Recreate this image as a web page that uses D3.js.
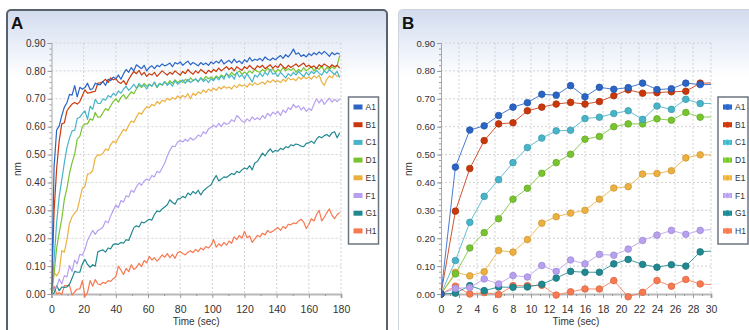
<!DOCTYPE html>
<html>
<head>
<meta charset="utf-8">
<script src="https://cdn.jsdelivr.net/npm/d3@7"></script>
<style>
  body { margin: 0; background: #fff; }
  text { font-family: "Liberation Sans", Arial, sans-serif; }
</style>
</head>
<body>
<svg id="chart" width="749" height="330"></svg>
<script>
// sample interval of the recordings (sec)
const step = 1.6;

const seriesNames = ["A1", "B1", "C1", "D1", "E1", "F1", "G1", "H1"];
const seriesColors = ["#2a64c4", "#c8380c", "#48b4c8", "#78c430", "#ecb040", "#b8a0f0", "#208890", "#f87850"];

const A1 = [0, 0.455, 0.588, 0.603, 0.640, 0.670, 0.686, 0.716, 0.713, 0.747, 0.707, 0.741, 0.734, 0.740, 0.756, 0.733, 0.736, 0.756, 0.751,
  0.751, 0.762, 0.748, 0.770, 0.765, 0.778, 0.772, 0.785, 0.770, 0.790, 0.805, 0.795,
  0.812, 0.800, 0.822, 0.815, 0.808, 0.820, 0.800, 0.812, 0.818, 0.808, 0.820, 0.815, 0.825,
  0.818, 0.822, 0.828, 0.815, 0.830, 0.825, 0.832, 0.820, 0.828, 0.835, 0.822, 0.830,
  0.825, 0.818, 0.830, 0.822, 0.828, 0.820, 0.832, 0.826, 0.835, 0.828, 0.840, 0.825, 0.832,
  0.838, 0.828, 0.842, 0.830, 0.836, 0.826, 0.840, 0.832, 0.848, 0.835, 0.842, 0.838,
  0.845, 0.836, 0.850, 0.842, 0.838, 0.846, 0.840, 0.848, 0.855, 0.845, 0.858, 0.850, 0.862,
  0.878, 0.860, 0.865, 0.852, 0.858, 0.850, 0.862, 0.855, 0.865, 0.858, 0.868, 0.860,
  0.870, 0.862, 0.852, 0.866, 0.858, 0.864, 0.860];

const B1 = [0, 0.297, 0.450, 0.550, 0.610, 0.614, 0.657, 0.670, 0.681, 0.687, 0.681, 0.690, 0.711, 0.732, 0.720, 0.722, 0.725, 0.727, 0.756,
  0.757, 0.762, 0.770, 0.758, 0.775, 0.768, 0.772, 0.760, 0.755, 0.765, 0.750, 0.770,
  0.785, 0.798, 0.790, 0.802, 0.785, 0.795, 0.780, 0.790, 0.785, 0.795, 0.780, 0.790, 0.800,
  0.792, 0.785, 0.795, 0.788, 0.800, 0.792, 0.785, 0.798, 0.790, 0.805, 0.795, 0.788,
  0.800, 0.792, 0.805, 0.798, 0.790, 0.802, 0.795, 0.805, 0.798, 0.810, 0.800, 0.808, 0.815,
  0.805, 0.812, 0.800, 0.815, 0.808, 0.802, 0.815, 0.808, 0.820, 0.810, 0.805, 0.818,
  0.812, 0.820, 0.808, 0.815, 0.822, 0.810, 0.818, 0.812, 0.825, 0.815, 0.808, 0.820, 0.812,
  0.818, 0.825, 0.815, 0.822, 0.828, 0.815, 0.820, 0.812, 0.818, 0.808, 0.822, 0.815,
  0.825, 0.818, 0.812, 0.822, 0.815, 0.820, 0.810];

const C1 = [0, 0.120, 0.257, 0.350, 0.410, 0.471, 0.525, 0.559, 0.585, 0.587, 0.629, 0.634, 0.647, 0.657, 0.626, 0.674, 0.662, 0.698, 0.683,
  0.683, 0.700, 0.695, 0.712, 0.705, 0.720, 0.712, 0.728, 0.720, 0.735, 0.745, 0.730,
  0.740, 0.752, 0.738, 0.755, 0.745, 0.748, 0.735, 0.752, 0.745, 0.760, 0.742, 0.755, 0.750,
  0.762, 0.748, 0.758, 0.745, 0.765, 0.752, 0.760, 0.768, 0.755, 0.770, 0.758, 0.765,
  0.772, 0.760, 0.775, 0.762, 0.770, 0.758, 0.772, 0.765, 0.778, 0.768, 0.782, 0.770, 0.792,
  0.775, 0.785, 0.770, 0.795, 0.778, 0.786, 0.772, 0.790, 0.775, 0.760, 0.785, 0.778,
  0.792, 0.780, 0.795, 0.785, 0.805, 0.788, 0.792, 0.780, 0.795, 0.785, 0.775, 0.790, 0.782,
  0.795, 0.785, 0.798, 0.788, 0.780, 0.795, 0.785, 0.798, 0.790, 0.802, 0.792, 0.785,
  0.800, 0.792, 0.805, 0.795, 0.788, 0.798, 0.775];

const D1 = [0, 0.072, 0.165, 0.220, 0.270, 0.340, 0.379, 0.433, 0.471, 0.501, 0.555, 0.565, 0.600, 0.610, 0.610, 0.628, 0.623, 0.651, 0.634,
  0.635, 0.650, 0.665, 0.658, 0.675, 0.690, 0.700, 0.688, 0.705, 0.715, 0.700, 0.712,
  0.725, 0.718, 0.735, 0.748, 0.740, 0.755, 0.745, 0.752, 0.745, 0.758, 0.740, 0.755, 0.748,
  0.760, 0.752, 0.765, 0.755, 0.768, 0.758, 0.765, 0.758, 0.770, 0.762, 0.775, 0.765,
  0.770, 0.762, 0.775, 0.768, 0.780, 0.772, 0.778, 0.770, 0.782, 0.775, 0.785, 0.778, 0.790,
  0.782, 0.795, 0.785, 0.792, 0.800, 0.788, 0.795, 0.790, 0.800, 0.792, 0.805, 0.798,
  0.795, 0.805, 0.798, 0.810, 0.800, 0.808, 0.795, 0.805, 0.798, 0.812, 0.800, 0.808, 0.802,
  0.810, 0.795, 0.805, 0.798, 0.812, 0.800, 0.808, 0.815, 0.800, 0.812, 0.805, 0.818,
  0.800, 0.812, 0.805, 0.815, 0.808, 0.820, 0.855];

const E1 = [0, 0.078, 0.065, 0.080, 0.156, 0.150, 0.195, 0.254, 0.277, 0.290, 0.300, 0.340, 0.380, 0.385, 0.430, 0.432, 0.442, 0.488, 0.499,
  0.498, 0.505, 0.520, 0.515, 0.535, 0.548, 0.542, 0.560, 0.575, 0.590, 0.585, 0.605,
  0.620, 0.615, 0.635, 0.650, 0.645, 0.660, 0.672, 0.668, 0.680, 0.675, 0.690, 0.682, 0.695,
  0.690, 0.702, 0.695, 0.705, 0.698, 0.710, 0.702, 0.712, 0.705, 0.718, 0.700, 0.720,
  0.712, 0.725, 0.718, 0.732, 0.722, 0.735, 0.728, 0.738, 0.730, 0.742, 0.735, 0.745, 0.738,
  0.742, 0.735, 0.748, 0.740, 0.752, 0.745, 0.750, 0.742, 0.755, 0.748, 0.758, 0.750,
  0.755, 0.760, 0.752, 0.765, 0.758, 0.768, 0.760, 0.765, 0.758, 0.770, 0.762, 0.775, 0.768,
  0.772, 0.765, 0.778, 0.770, 0.780, 0.772, 0.778, 0.770, 0.782, 0.775, 0.785, 0.760,
  0.748, 0.770, 0.782, 0.775, 0.790, 0.780, 0.785];

const F1 = [0, 0.020, 0.023, 0.054, 0.036, 0.066, 0.061, 0.102, 0.081, 0.122, 0.108, 0.142, 0.139, 0.161, 0.192, 0.211, 0.228, 0.214, 0.228,
  0.232, 0.240, 0.262, 0.255, 0.280, 0.300, 0.318, 0.310, 0.335, 0.330, 0.352, 0.348,
  0.372, 0.365, 0.385, 0.398, 0.390, 0.405, 0.412, 0.408, 0.425, 0.420, 0.440, 0.435, 0.452,
  0.470, 0.495, 0.515, 0.530, 0.528, 0.545, 0.550, 0.545, 0.555, 0.548, 0.560, 0.552,
  0.558, 0.570, 0.565, 0.582, 0.575, 0.592, 0.598, 0.605, 0.598, 0.612, 0.600, 0.615, 0.608,
  0.612, 0.625, 0.618, 0.640, 0.632, 0.620, 0.615, 0.628, 0.620, 0.635, 0.625, 0.632,
  0.625, 0.640, 0.630, 0.648, 0.638, 0.652, 0.645, 0.655, 0.640, 0.660, 0.650, 0.668, 0.662,
  0.680, 0.668, 0.675, 0.660, 0.670, 0.655, 0.665, 0.658, 0.680, 0.700, 0.685, 0.698,
  0.680, 0.692, 0.702, 0.688, 0.698, 0.690, 0.700];

const G1 = [0, 0.003, 0.030, 0.012, 0.025, 0.024, 0.025, 0.035, 0.057, 0.081, 0.078, 0.078, 0.108, 0.124, 0.106, 0.096, 0.105, 0.100, 0.151,
  0.155, 0.158, 0.150, 0.165, 0.162, 0.178, 0.180, 0.178, 0.185, 0.182, 0.195, 0.192,
  0.215, 0.238, 0.245, 0.240, 0.258, 0.255, 0.262, 0.268, 0.265, 0.285, 0.298, 0.295, 0.305,
  0.312, 0.320, 0.338, 0.328, 0.322, 0.340, 0.342, 0.350, 0.345, 0.362, 0.355, 0.368,
  0.360, 0.372, 0.355, 0.370, 0.378, 0.385, 0.392, 0.410, 0.425, 0.405, 0.412, 0.420, 0.418,
  0.425, 0.432, 0.428, 0.440, 0.435, 0.445, 0.452, 0.448, 0.460, 0.445, 0.470, 0.475,
  0.490, 0.505, 0.495, 0.510, 0.520, 0.508, 0.515, 0.512, 0.522, 0.518, 0.528, 0.525, 0.535,
  0.532, 0.538, 0.535, 0.530, 0.528, 0.540, 0.542, 0.548, 0.540, 0.555, 0.565, 0.560,
  0.568, 0.572, 0.565, 0.578, 0.582, 0.560, 0.578];

const H1 = [0, 0.028, 0.000, 0.005, -0.002, 0.030, 0.030, 0.031, -0.004, 0.008, 0.018, 0.018, 0.048, -0.010, 0.006, 0.048, 0.028, 0.052, 0.036,
  0.033, 0.042, 0.038, 0.048, 0.045, 0.055, 0.062, 0.100, 0.085, 0.070, 0.092, 0.080,
  0.105, 0.088, 0.095, 0.110, 0.098, 0.120, 0.112, 0.135, 0.122, 0.130, 0.118, 0.128, 0.140,
  0.132, 0.145, 0.130, 0.142, 0.128, 0.148, 0.152, 0.145, 0.140, 0.150, 0.155, 0.148,
  0.160, 0.152, 0.165, 0.158, 0.170, 0.165, 0.175, 0.195, 0.168, 0.180, 0.172, 0.185, 0.175,
  0.190, 0.182, 0.205, 0.195, 0.210, 0.200, 0.225, 0.202, 0.208, 0.185, 0.198, 0.210,
  0.205, 0.218, 0.212, 0.228, 0.220, 0.225, 0.232, 0.238, 0.228, 0.242, 0.235, 0.250, 0.248,
  0.255, 0.252, 0.262, 0.268, 0.258, 0.235, 0.250, 0.270, 0.262, 0.285, 0.300, 0.262,
  0.275, 0.292, 0.305, 0.282, 0.270, 0.285, 0.292];

const seriesValues = [A1, B1, C1, D1, E1, F1, G1, H1];

const yTicks = [0, 0.1, 0.2, 0.3, 0.4, 0.5, 0.6, 0.7, 0.8, 0.9];
const xTicksA = [0, 20, 40, 60, 80, 100, 120, 140, 160, 180];
const xTicksB = [0, 2, 4, 6, 8, 10, 12, 14, 16, 18, 20, 22, 24, 26, 28, 30];

const svg = d3.select("#chart");
const defs = svg.append("defs");

const grad = defs.append("linearGradient")
  .attr("id", "head")
  .attr("gradientUnits", "userSpaceOnUse")
  .attr("x1", 0).attr("x2", 0).attr("y1", 10).attr("y2", 78);
grad.append("stop").attr("offset", 0).attr("stop-color", "#d3dbee");
grad.append("stop").attr("offset", 0.5).attr("stop-color", "#e9eef8");
grad.append("stop").attr("offset", 1).attr("stop-color", "#ffffff");

function drawPanel(cfg) {
  const g = svg.append("g");

  // panel frame
  g.append("rect")
    .attr("x", cfg.frame[0]).attr("y", cfg.frame[1])
    .attr("width", cfg.frame[2]).attr("height", cfg.frame[3])
    .attr("rx", 4)
    .attr("fill", "url(#head)")
    .attr("stroke", cfg.frameColor)
    .attr("stroke-width", cfg.frameWidth);

  g.append("text")
    .attr("x", cfg.titleX).attr("y", 29)
    .attr("font-size", 17).attr("font-weight", "bold")
    .attr("fill", "#111")
    .text(cfg.title);

  const x = d3.scaleLinear().domain(cfg.xDomain).range(cfg.xRange);
  const y = d3.scaleLinear().domain([0, 0.9]).range([294, 43]);

  // grid
  g.append("g").selectAll("line")
    .data(yTicks.slice(1))
    .join("line")
    .attr("x1", cfg.xRange[0]).attr("x2", cfg.xRange[1])
    .attr("y1", d => y(d)).attr("y2", d => y(d))
    .attr("stroke", "#d2d2d2")
    .attr("stroke-dasharray", "2,2");

  g.append("g").selectAll("line")
    .data(cfg.xTicks.slice(1))
    .join("line")
    .attr("x1", d => x(d)).attr("x2", d => x(d))
    .attr("y1", y(0.9)).attr("y2", y(0))
    .attr("stroke", "#d2d2d2")
    .attr("stroke-dasharray", "2,2");

  // y axis
  const yAxis = g.append("g")
    .attr("transform", "translate(" + cfg.xRange[0] + ",0)")
    .call(d3.axisLeft(y).tickValues(yTicks).tickFormat(d3.format(".2f")).tickSize(4).tickPadding(2));
  g.append("g")
    .attr("transform", "translate(" + cfg.xRange[0] + ",0)")
    .call(d3.axisLeft(y).tickValues(d3.range(0, 0.9, 0.02)).tickFormat("").tickSize(2))
    .call(a => a.select(".domain").remove());

  // x axis
  const xAxis = g.append("g")
    .attr("transform", "translate(0," + y(0) + ")")
    .call(d3.axisBottom(x).tickValues(cfg.xTicks).tickSize(4).tickPadding(8));
  g.append("g")
    .attr("transform", "translate(0," + y(0) + ")")
    .call(d3.axisBottom(x).tickValues(cfg.minorX).tickFormat("").tickSize(2))
    .call(a => a.select(".domain").remove());

  g.selectAll(".tick line").attr("stroke", "#9a9a9a");
  yAxis.select(".domain").attr("stroke", "#a8a8a8");
  xAxis.select(".domain").attr("stroke", "#b8b8b8").attr("stroke-width", 2);
  yAxis.selectAll("text").attr("font-size", cfg.yFont).attr("fill", "#333")
    .attr("font-family", "'Liberation Sans', Arial, sans-serif");
  xAxis.selectAll("text").attr("font-size", 10.5).attr("fill", "#333")
    .attr("font-family", "'Liberation Sans', Arial, sans-serif");

  // axis titles
  g.append("text")
    .attr("transform", "translate(" + cfg.nmX + ",169) rotate(-90)")
    .attr("text-anchor", "middle")
    .attr("font-size", 10).attr("fill", "#333")
    .text("nm");
  g.append("text")
    .attr("x", (cfg.xRange[0] + cfg.xRange[1]) / 2).attr("y", 325)
    .attr("text-anchor", "middle")
    .attr("font-size", 10).attr("fill", "#333")
    .text("Time (sec)");

  // series
  const clipId = "clip" + cfg.title;
  defs.append("clipPath").attr("id", clipId)
    .append("rect")
    .attr("x", cfg.xRange[0]).attr("y", 38)
    .attr("width", cfg.xRange[1] - cfg.xRange[0]).attr("height", 264);

  const line = d3.line()
    .x(d => x(d.t))
    .y(d => y(d.v));

  const plot = g.append("g").attr("clip-path", "url(#" + clipId + ")");
  const order = d3.range(seriesNames.length).reverse();
  order.forEach(k => {
    const pts = seriesValues[k]
      .map((v, i) => ({ t: i * step, v: v }))
      .filter(d => d.t <= cfg.xDomain[1] + step);
    plot.append("path")
      .datum(pts)
      .attr("fill", "none")
      .attr("stroke", seriesColors[k])
      .attr("stroke-width", cfg.lineWidth)
      .attr("stroke-opacity", cfg.markers ? 0.85 : 1)
      .attr("stroke-linejoin", "round")
      .attr("d", line);
    if (cfg.markers) {
      plot.append("g").selectAll("circle")
        .data(pts.filter(d => d.t <= cfg.xDomain[1]))
        .join("circle")
        .attr("cx", d => x(d.t))
        .attr("cy", d => y(d.v))
        .attr("r", 3.3)
        .attr("fill", seriesColors[k])
        .attr("stroke", d3.color(seriesColors[k]).darker(0.4))
        .attr("stroke-width", 0.8);
    }
  });

  // legend
  const lg = g.append("g");
  lg.append("rect")
    .attr("x", cfg.legendX).attr("y", 97)
    .attr("width", 30).attr("height", 147)
    .attr("fill", "#fff")
    .attr("stroke", "#6c7680")
    .attr("stroke-width", 1.5);
  const items = lg.selectAll("g.item")
    .data(seriesNames)
    .join("g")
    .attr("class", "item")
    .attr("transform", (d, i) => "translate(" + (cfg.legendX + 5) + "," + (107 + i * 17.7) + ")");
  items.append("rect")
    .attr("x", 0).attr("y", -2.5)
    .attr("width", 9).attr("height", 5)
    .attr("fill", (d, i) => seriesColors[i]);
  if (cfg.markers) {
    items.append("circle")
      .attr("cx", 4.5).attr("cy", 0).attr("r", 2.6)
      .attr("fill", (d, i) => seriesColors[i])
      .attr("stroke", (d, i) => d3.color(seriesColors[i]).brighter(0.6))
      .attr("stroke-width", 0.8);
  }
  items.append("text")
    .attr("x", 12).attr("y", 3)
    .attr("font-size", 8.5).attr("fill", "#333")
    .text(d => d);
}

drawPanel({
  title: "A", titleX: 11,
  frame: [7, 10, 380, 340], frameColor: "#58626c", frameWidth: 2,
  xDomain: [0, 180], xRange: [51.5, 341], xTicks: xTicksA,
  minorX: d3.range(10, 180, 20),
  yFont: 10, nmX: 21, legendX: 348.5,
  lineWidth: 1.2, markers: false
});

drawPanel({
  title: "B", titleX: 402,
  frame: [398.5, 9.5, 360, 340], frameColor: "#cfd4dc", frameWidth: 1,
  xDomain: [0, 30], xRange: [441, 711], xTicks: xTicksB,
  minorX: d3.range(1, 30, 2),
  yFont: 9.5, nmX: 412, legendX: 718,
  lineWidth: 1, markers: true
});
</script>
</body>
</html>
